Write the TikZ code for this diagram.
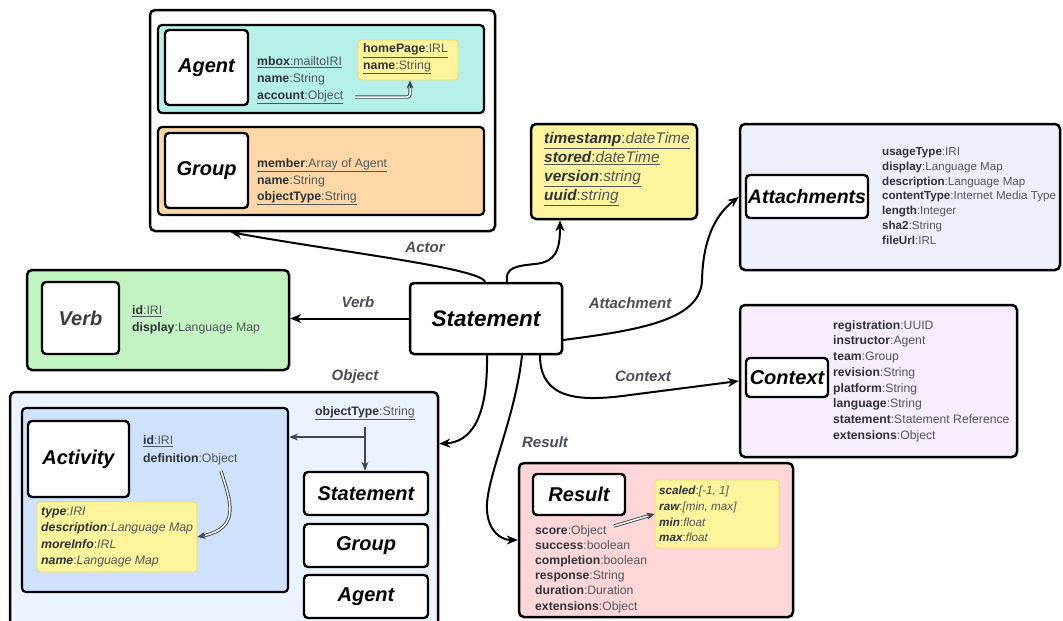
\documentclass[tikz,border=0pt]{standalone}
\usepackage{fontspec}
\setmainfont{Liberation Sans}
\usetikzlibrary{arrows.meta,calc}
\definecolor{agentc}{HTML}{B5F1E9}
\definecolor{groupc}{HTML}{FDD8A6}
\definecolor{tsc}{HTML}{FFF59F}
\definecolor{yelc}{HTML}{FFF59D}
\definecolor{yelb}{HTML}{EED866}
\definecolor{attc}{HTML}{EEF0FC}
\definecolor{ctxc}{HTML}{F8EDFC}
\definecolor{verbc}{HTML}{C3F5C3}
\definecolor{objc}{HTML}{EBF3FF}
\definecolor{actc}{HTML}{CFE2FB}
\definecolor{resc}{HTML}{FFD7D9}
\definecolor{keyc}{HTML}{2E3238}
\definecolor{valc}{HTML}{52565C}
\definecolor{lblc}{HTML}{4A4E57}
\definecolor{dblc}{HTML}{3F4750}
\definecolor{verbtc}{HTML}{3A3E46}
\newcommand{\kv}[2]{{\color{keyc}\bfseries #1}:#2}
\newcommand{\ukv}[2]{\underline{{\color{keyc}\bfseries #1}:#2}}
\newcommand{\kvi}[2]{{\color{keyc}\bfseries\itshape #1}:{\itshape #2}}
\newcommand{\ukvi}[2]{\underline{{\color{keyc}\bfseries\itshape #1}:{\itshape #2}}}
\def\bx#1#2#3#4#5#6#7{\node[#1,minimum width={#5pt-#3pt},minimum height={#6pt-#4pt}] (#2) at ({(#3+#5)/2},{(#4+#6)/2}) {#7};}
\begin{document}
\begin{tikzpicture}[x=1pt,y=-1pt,
  outer/.style={draw=black,fill=white,line width=2.5pt,rounded corners=5pt,inner sep=0pt},
  row/.style={draw=black,line width=2.2pt,rounded corners=4pt,inner sep=0pt},
  title/.style={draw=black,fill=white,line width=2.4pt,rounded corners=4pt,inner sep=0pt,
    font=\fontsize{20}{24}\selectfont\bfseries\itshape},
  yel/.style={draw=yelb,fill=yelc,line width=0.8pt,rounded corners=3pt,inner sep=0pt},
  txt/.style={anchor=west,align=left,inner sep=0pt,text=valc,font=\fontsize{12.3}{16.5}\selectfont},
  elbl/.style={text=lblc,inner sep=0pt,font=\fontsize{15}{17}\selectfont\bfseries\itshape},
  arr/.style={draw=black,line width=2pt,-{Stealth[length=11pt,width=9pt]}},
  garr/.style={draw=dblc,line width=1.2pt,-{Stealth[length=9pt,width=7pt]}},
  dbl/.style={draw=dblc,double=white,double distance=1.5pt,line width=0.9pt},
  tipst/.style={draw=dblc,line width=0.9pt,-{Stealth[length=8pt,width=7pt]}}]
\useasboundingbox (0,0) rectangle (1063,621);
\clip (0,0) rectangle (1063,621);

% ---------- Actor ----------
\bx{outer}{actor}{150}{10}{495}{231}{}
\bx{row,fill=agentc}{agentrow}{158}{25}{484}{113}{}
\bx{title}{agentt}{165}{30}{248}{105}{Agent}
\node[txt,font=\fontsize{12.3}{17}\selectfont] (agenttxt) at (257,80) {\ukv{mbox}{mailtoIRI}\\\kv{name}{String}\\\ukv{account}{Object}};
\bx{yel}{hp}{358}{40}{458}{80}{}
\node[txt] (hptxt) at (363,59) {\ukv{homePage}{IRL}\\\ukv{name}{String}};
\coordinate (accend) at (355,97);
\draw[dbl,rounded corners=3pt,shorten >=5pt] (accend) -| ([xshift=2pt]hp.south);
\draw[tipst] ([xshift=2pt,yshift=-8pt]hp.south) -- ([xshift=2pt]hp.south);
\bx{row,fill=groupc}{grouprow}{158}{127}{484}{215}{}
\bx{title}{groupt}{165}{133}{248}{208}{Group}
\node[txt] (grouptxt) at (257,182) {\ukv{member}{Array of Agent}\\\kv{name}{String}\\\ukv{objectType}{String}};

% ---------- Timestamp ----------
\bx{outer,fill=tsc}{ts}{531}{124}{697}{219}{}
\node[txt,font=\fontsize{15.4}{19}\selectfont] (tstxt) at (544,169) {\ukvi{timestamp}{dateTime}\\\ukvi{stored}{dateTime}\\\ukvi{version}{string}\\\ukvi{uuid}{string}};

% ---------- Attachments ----------
\bx{outer,fill=attc}{att}{740}{124}{1060}{270}{}
\bx{title,font=\fontsize{19.5}{24}\selectfont\bfseries\itshape}{attt}{746}{175}{868}{218}{Attachments}
\node[txt,font=\fontsize{11.6}{14.8}\selectfont] (atttxt) at (882,196) {\kv{usageType}{IRI}\\\kv{display}{Language Map}\\\kv{description}{Language Map}\\\kv{contentType}{Internet Media Type}\\\kv{length}{Integer}\\\kv{sha2}{String}\\\kv{fileUrl}{IRL}};

% ---------- Context ----------
\bx{outer,fill=ctxc}{ctx}{740}{305}{1017}{457}{}
\bx{title}{ctxt}{746}{358}{828}{397}{Context}
\node[txt,font=\fontsize{12.2}{15.7}\selectfont] (ctxtxt) at (833,381) {\kv{registration}{UUID}\\\kv{instructor}{Agent}\\\kv{team}{Group}\\\kv{revision}{String}\\\kv{platform}{String}\\\kv{language}{String}\\\kv{statement}{Statement Reference}\\\kv{extensions}{Object}};

% ---------- Verb ----------
\bx{outer,fill=verbc}{verb}{27}{270}{289}{370}{}
\bx{title,text=verbtc}{verbt}{42}{282}{119}{354}{Verb}
\node[txt] (verbtxt) at (132,320) {\ukv{id}{IRI}\\\kv{display}{Language Map}};

% ---------- Object ----------
\bx{outer,fill=objc}{obj}{10}{392}{438}{640}{}
\bx{row,fill=actc}{act}{22}{408}{288}{592}{}
\bx{title}{actt}{28}{421}{129}{497}{Activity}
\node[txt,font=\fontsize{12.3}{18}\selectfont] (acttxt) at (143,450) {\ukv{id}{IRI}\\\kv{definition}{Object}};
\bx{yel}{ayel}{37}{502}{197}{572}{}
\node[txt] (ayeltxt) at (41,537) {\kvi{type}{IRI}\\\kvi{description}{Language Map}\\\kvi{moreInfo}{IRL}\\\kvi{name}{Language Map}};
\coordinate (defend) at (221,471);
\draw[dbl,shorten >=5pt] (defend) .. controls (230,500) and (242,528) .. (ayel.east);
\draw[tipst] ($(ayel.east)+(7.5,-1.6)$) -- (ayel.east);
\node[txt,anchor=center] (ottxt) at (365,413) {\ukv{objectType}{String}};
\bx{title}{ostmt}{304}{472}{428}{515}{Statement}
\bx{title}{ogroup}{304}{524}{428}{567}{Group}
\bx{title}{oagent}{304}{575}{428}{618}{Agent}
\coordinate (otbr) at (365,427);
\coordinate (otmid) at (365,437);
\draw[garr] (otbr) -- (otbr |- ostmt.north);
\draw[garr] (otmid) -- (otmid -| act.east);

% ---------- Result ----------
\bx{outer,fill=resc}{res}{519}{463}{793}{617}{}
\bx{title}{rest}{533}{474}{625}{515}{Result}
\node[txt,font=\fontsize{12.2}{15.2}\selectfont] (restxt) at (535,569) {\kv{score}{Object}\\\kv{success}{boolean}\\\kv{completion}{boolean}\\\kv{response}{String}\\\kv{duration}{Duration}\\\kv{extensions}{Object}};
\bx{yel}{ryel}{655}{480}{779}{548}{}
\node[txt,font=\fontsize{11.7}{15.7}\selectfont] (ryeltxt) at (659,514) {\kvi{scaled}{[-1, 1]}\\\kvi{raw}{[min, max]}\\\kvi{min}{float}\\\kvi{max}{float}};
\coordinate (scoreend) at (614,526);
\draw[dbl,shorten >=5pt] (scoreend) -- (ryel.west);
\draw[tipst] ($(ryel.west)+(-7.2,2)$) -- (ryel.west);

% ---------- Statement ----------
\bx{title,line width=2.5pt,font=\fontsize{22.5}{26}\selectfont\bfseries\itshape}{stmt}{410}{283}{562}{354}{Statement}

% ---------- connectors ----------
\draw[arr] ([xshift=-1pt]stmt.north) .. controls (480,268) and (340,252) .. ([xshift=82pt]actor.south west);
\draw[arr] ([xshift=21pt]stmt.north) .. controls (505,268) and (515,266) .. (535,264) .. controls (556,262) and (560,250) .. ([xshift=-54pt]ts.south);
\draw[arr] (stmt.west) -- (stmt.west -| verb.east);
\draw[arr] ([yshift=-21.5pt]stmt.east) .. controls (640,330) and (701,320) .. (702,280) .. controls (703,240) and (715,215) .. (att.west);
\draw[arr] ([xshift=54pt]stmt.south) .. controls (540,400) and (580,402) .. (630,395) -- (ctx.west);
\draw[arr] ([xshift=1pt]stmt.south) .. controls (488,420) and (470,442) .. ([yshift=-53pt]obj.north east);
\draw[arr] ([xshift=36pt]stmt.south) .. controls (515,420) and (485,480) .. (487,510) .. controls (488,530) and (500,540) .. (res.west);

\node[elbl] (lactor) at (425,247) {Actor};
\node[elbl] (lverb) at (358,302) {Verb};
\node[elbl] (latt) at (630,303) {Attachment};
\node[elbl] (lctx) at (643,376) {Context};
\node[elbl] (lobj) at (355,377) {Object};
\node[elbl] (lres) at (545,442) {Result};
\end{tikzpicture}
\end{document}
